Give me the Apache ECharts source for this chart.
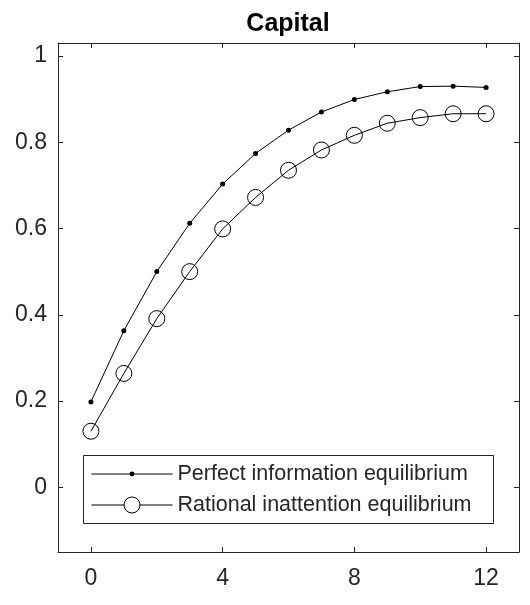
<!DOCTYPE html>
<html>
<head>
<meta charset="utf-8">
<script src="https://cdn.jsdelivr.net/npm/echarts@6/dist/echarts.min.js"></script>
<style>
html,body{margin:0;padding:0;background:#fff;}
#chart{width:530px;height:605px;}
</style>
</head>
<body>
<div id="chart"></div>
<script>
const periods = [0,1,2,3,4,5,6,7,8,9,10,11,12];
const perfectInfo = [0.198,0.363,0.500,0.612,0.703,0.774,0.828,0.870,0.899,0.917,0.929,0.930,0.927];
const rationalInattention = [0.130,0.264,0.391,0.500,0.599,0.672,0.735,0.782,0.816,0.844,0.857,0.866,0.866];
const xTicks = [0,4,8,12];
const yTicks = [0,0.2,0.4,0.6,0.8,1];
const seriesNames = ['Perfect information equilibrium','Rational inattention equilibrium'];
const titleText = 'Capital';

const FONT = 'Liberation Sans, Arial, Helvetica, sans-serif';
const AX = '#262626';

const chart = echarts.init(document.getElementById('chart'), null, {renderer:'canvas'});

function pairs(ys){ return periods.map((x,i)=>[x, ys[i]]); }

const axisCommonX = {
  type:'value', min:-1, max:13,
  axisLine:{show:true, onZero:false, lineStyle:{color:AX, width:1}},
  axisTick:{show:true, inside:true, length:5, customValues:xTicks, lineStyle:{color:AX}},
  splitLine:{show:false}
};
const axisCommonY = {
  type:'value', min:-0.15, max:1.03,
  axisLine:{show:true, onZero:false, lineStyle:{color:AX, width:1}},
  axisTick:{show:true, inside:true, length:5, customValues:yTicks, lineStyle:{color:AX}},
  splitLine:{show:false}
};

chart.setOption({
  animation:false,
  backgroundColor:'#fff',
  title:{
    text:titleText, left:288, top:12, padding:0, textAlign:'center',
    textStyle:{fontFamily:FONT, fontWeight:'bold', fontSize:25, color:'#000'}
  },
  grid:{left:58, top:43, right:11, bottom:53, containLabel:false},
  xAxis:[
    Object.assign({}, axisCommonX, {position:'bottom',
      axisLabel:{show:true, customValues:xTicks, margin:15, fontFamily:FONT, fontSize:23, color:AX}}),
    Object.assign({}, axisCommonX, {position:'top', axisLabel:{show:false}})
  ],
  yAxis:[
    Object.assign({}, axisCommonY, {position:'left',
      axisLabel:{show:true, customValues:yTicks, margin:11, fontFamily:FONT, fontSize:23, color:AX,
        formatter:v=>String(Math.round(v*10)/10)}}),
    Object.assign({}, axisCommonY, {position:'right', axisLabel:{show:false}})
  ],
  legend:[
    {
      data:[seriesNames[0]], orient:'vertical', left:91, top:463, padding:0,
      itemWidth:81, itemHeight:6, itemGap:0,
      lineStyle:{width:1, color:'#000'},
      textStyle:{fontFamily:FONT, fontSize:21.5, color:AX, lineHeight:22}
    },
    {
      data:[seriesNames[1]], orient:'vertical', left:91, top:494, padding:0,
      itemWidth:81, itemHeight:20, itemGap:0,
      lineStyle:{width:1, color:'#000'},
      itemStyle:{color:'#fff', borderColor:'#000', borderWidth:1},
      textStyle:{fontFamily:FONT, fontSize:21.5, color:AX, lineHeight:22}
    }
  ],
  graphic:[{
    type:'rect', z:-1, left:83, top:455,
    shape:{x:0, y:0, width:410, height:68},
    style:{fill:'#fff', stroke:AX, lineWidth:1}
  }],
  series:[
    {
      name:seriesNames[0], type:'line', data:pairs(perfectInfo),
      symbol:'circle', symbolSize:5, showSymbol:true,
      lineStyle:{color:'#000', width:1},
      itemStyle:{color:'#000'},
      emphasis:{disabled:true}
    },
    {
      name:seriesNames[1], type:'line', data:pairs(rationalInattention),
      symbol:'circle', symbolSize:16, showSymbol:true,
      lineStyle:{color:'#000', width:1},
      itemStyle:{color:'rgba(0,0,0,0)', borderColor:'#000', borderWidth:1},
      emphasis:{disabled:true}
    }
  ]
});
</script>
</body>
</html>
